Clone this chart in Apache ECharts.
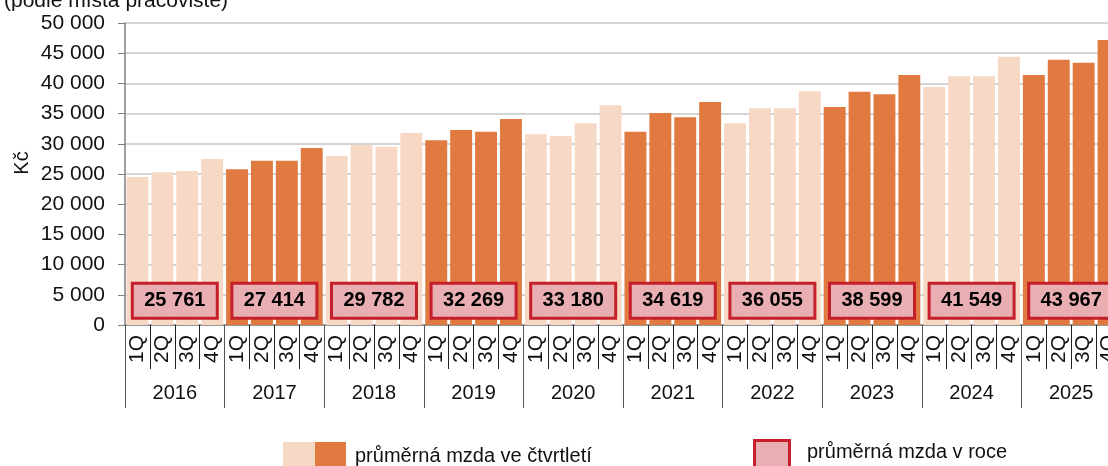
<!DOCTYPE html>
<html>
<head>
<meta charset="utf-8">
<script src="https://cdn.jsdelivr.net/npm/echarts@6/dist/echarts.min.js"></script>
<style>
html,body{margin:0;padding:0;overflow:hidden;background:#fff;width:1108px;height:466px;}
#c{width:1140px;height:466px;}
</style>
</head>
<body>
<div id="c"></div>
<script>
const years = ['2016','2017','2018','2019','2020','2021','2022','2023','2024','2025'];
const quarters = ['1Q','2Q','3Q','4Q'];
const quarterlyWage = [
  24.5, 25.3, 25.5, 27.5,
  25.8, 27.2, 27.2, 29.3,
  28.0, 29.8, 29.5, 31.8,
  30.6, 32.3, 32.0, 34.1,
  31.6, 31.3, 33.4, 36.4,
  32.0, 35.1, 34.4, 36.9,
  33.4, 35.9, 35.9, 38.7,
  36.1, 38.6, 38.2, 41.4,
  39.4, 41.2, 41.2, 44.4,
  41.4, 43.9, 43.4, 47.2
].map(v => v * 1000);
const annualWage = [25761, 27414, 29782, 32269, 33180, 34619, 36055, 38599, 41549, 43967];
const yTicks = { min: 0, max: 50000, interval: 5000 };

const LIGHT = '#F7D8C5', DARK = '#E07A40';
const FONT = 'Liberation Sans, Arial, sans-serif';
const fmt = v => String(v).replace(/\B(?=(\d{3})+(?!\d))/g, ' ');

const qCats = [];
years.forEach(() => quarters.forEach(q => qCats.push(q)));
const barData = quarterlyWage.map((v, i) => ({
  value: v,
  itemStyle: { color: Math.floor(i / 4) % 2 === 0 ? LIGHT : DARK }
}));
const BOX_Y = 4000;
const boxData = annualWage.map((v, i) => [years[i], BOX_Y, v]);

const chart = echarts.init(document.getElementById('c'), null, { renderer: 'canvas' });
chart.setOption({
  animation: false,
  textStyle: { fontFamily: FONT },
  grid: { left: 125, top: 23, width: 996, height: 302, containLabel: false },
  xAxis: [
    {
      type: 'category', data: qCats, position: 'bottom',
      axisLine: { show: true, lineStyle: { color: '#7f7f7f', width: 1.5 } },
      axisTick: { show: true, interval: 0, length: 44, lineStyle: { color: '#222', width: 1 } },
      axisLabel: { interval: 0, rotate: 90, margin: 10, fontSize: 21, color: '#111', fontFamily: FONT }
    },
    {
      type: 'category', data: years, position: 'bottom',
      axisLine: { show: false },
      axisTick: { show: true, interval: 0, length: 83, lineStyle: { color: '#555', width: 1 } },
      axisLabel: { interval: 0, margin: 58, fontSize: 20, color: '#111', fontFamily: FONT }
    }
  ],
  yAxis: {
    type: 'value', min: yTicks.min, max: yTicks.max, interval: yTicks.interval,
    axisLine: { show: true, lineStyle: { color: '#7f7f7f', width: 1.5 } },
    axisTick: { show: true, inside: false, length: 7, lineStyle: { color: '#7f7f7f' } },
    splitLine: { show: true, lineStyle: { color: '#C6C6C6', width: 1.5 } },
    axisLabel: { margin: 20, fontSize: 21, color: '#111', fontFamily: FONT, formatter: v => fmt(v) }
  },
  series: [
    {
      type: 'bar', xAxisIndex: 0, data: barData, barCategoryGap: '12%'
    },
    {
      type: 'scatter', xAxisIndex: 1, data: boxData, symbolSize: 2,
      itemStyle: { color: 'rgba(0,0,0,0)', opacity: 1 }, z: 5,
      labelLayout: { hideOverlap: false },
      label: {
        show: true, position: 'inside',
        formatter: p => fmt(p.data[2]),
        fontFamily: FONT, fontWeight: 'bold', fontSize: 20, color: '#000',
        backgroundColor: '#E8AEB1', borderColor: '#C41F2A', borderWidth: 3,
        padding: [6, 10], width: 62, lineHeight: 20, align: 'center'
      }
    }
  ],
  graphic: [
    { type: 'text', left: 4, top: -9, style: { text: '(podle místa pracoviště)', font: '21px ' + FONT, fill: '#111' } },
    { type: 'text', x: 22, y: 163, rotation: Math.PI / 2, style: { text: 'Kč', font: '20px ' + FONT, fill: '#111', align: 'center', verticalAlign: 'middle' } },
    { type: 'rect', shape: { x: 283, y: 442, width: 32, height: 26 }, style: { fill: LIGHT } },
    { type: 'rect', shape: { x: 315, y: 442, width: 31, height: 26 }, style: { fill: DARK } },
    { type: 'text', x: 355, y: 456, style: { text: 'průměrná mzda ve čtvrtletí', font: '20px ' + FONT, fill: '#111', verticalAlign: 'middle' } },
    { type: 'rect', shape: { x: 754.5, y: 440.5, width: 35, height: 30 }, style: { fill: '#E8AEB1', stroke: '#C41F2A', lineWidth: 3 } },
    { type: 'text', x: 807, y: 452, style: { text: 'průměrná mzda v roce', font: '20px ' + FONT, fill: '#111', verticalAlign: 'middle' } }
  ]
});
</script>
</body>
</html>
